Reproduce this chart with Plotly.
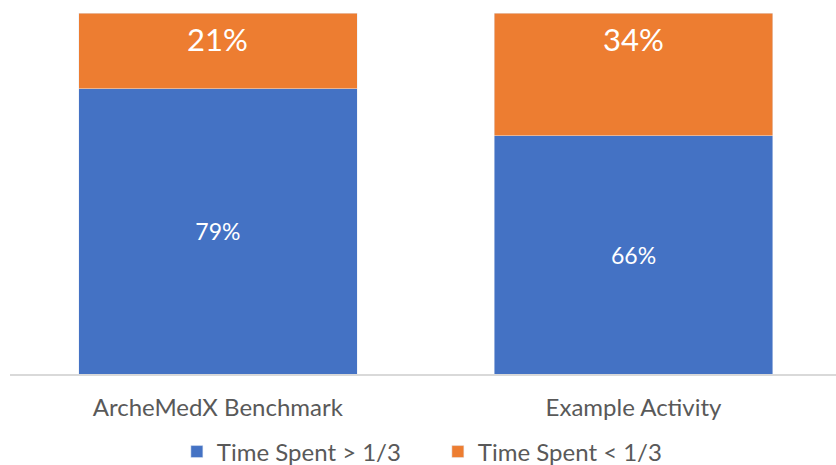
import plotly.graph_objects as go

categories = ["ArcheMedX Benchmark", "Example Activity"]
above = [79, 66]   # Time Spent > 1/3
below = [21, 34]   # Time Spent < 1/3
series_names = ["Time Spent > 1/3", "Time Spent < 1/3"]

BLUE = "#4472C4"
ORANGE = "#ED7D31"
FONT = "Lato, Open Sans, sans-serif"

fig = go.Figure()
fig.add_trace(go.Bar(
    x=categories, y=above, name=series_names[0], marker_color=BLUE,
    width=0.67, text=[f"{v}%" for v in above], textposition="inside",
    insidetextanchor="middle",
    textfont=dict(color="white", size=23, family=FONT),
))
fig.add_trace(go.Bar(
    x=categories, y=below, name=series_names[1], marker_color=ORANGE,
    width=0.67, hoverinfo="y",
))
for c, a, b in zip(categories, above, below):
    fig.add_annotation(
        x=c, y=a + b, text=f"{b}%", showarrow=False, yanchor="top", yshift=-5,
        font=dict(color="white", size=31, family=FONT),
    )

fig.update_layout(
    barmode="stack",
    width=836, height=465,
    margin=dict(l=10, r=0, t=13, b=91, autoexpand=False),
    plot_bgcolor="white", paper_bgcolor="white",
    font=dict(family=FONT, color="#595959", size=24),
    xaxis=dict(range=[-0.5, 1.487], showline=True, linecolor="#D9D9D9", linewidth=1.5,
               ticks="outside", ticklen=11, tickcolor="rgba(0,0,0,0)",
               tickfont=dict(size=24, color="#595959"), showgrid=False),
    yaxis=dict(range=[0, 100], visible=False, showgrid=False),
    showlegend=True,
    legend=dict(orientation="h", x=0.518, xanchor="center", y=-0.216, yanchor="middle",
                font=dict(size=24, color="#595959"), traceorder="normal",
                itemwidth=30, entrywidth=216),
)

fig.write_html("out.html")
